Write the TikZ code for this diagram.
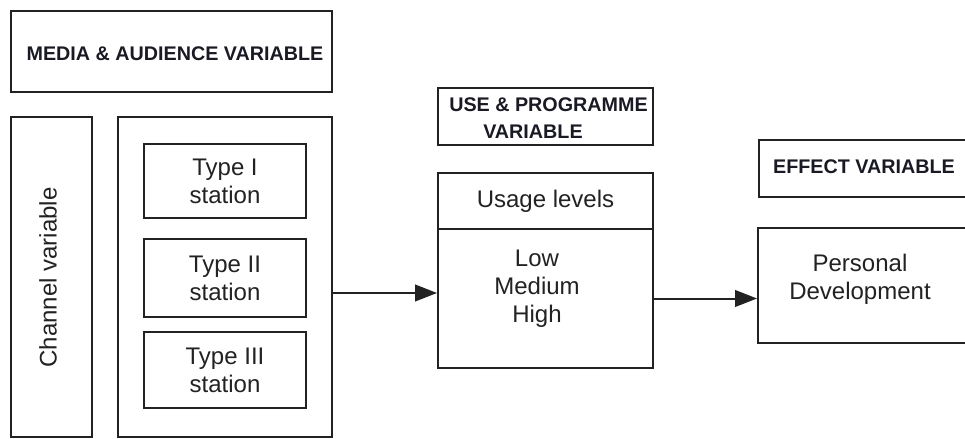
\documentclass[tikz,border=0pt]{standalone}
\usepackage{fontspec}
\setmainfont{Liberation Sans}
\usetikzlibrary{arrows.meta}
\definecolor{ink}{HTML}{222222}
\definecolor{headink}{HTML}{1A1A24}
\begin{document}
\begin{tikzpicture}[x=0.75pt, y=-0.75pt,
  box/.style={draw=ink, line width=1.5pt, rectangle, inner sep=0pt},
  bodytext/.style={text=ink, font=\fontsize{18}{21}\selectfont, align=center, inner sep=0pt},
  headtext/.style={text=headink, font=\fontsize{14.8}{20.3}\selectfont\bfseries, inner sep=0pt},
  arr/.style={draw=ink, line width=1.5pt, -{Triangle[length=16.5pt, width=12.5pt]}}]
\useasboundingbox (0,0) rectangle (965,439);
\fill[white] (0,0) rectangle (965,439);
\clip (0,0) rectangle (965,439);

% media and audience block
\node[box, minimum width=321*0.75pt, minimum height=81*0.75pt] (media) at (171.5,51.5) {};
\node[headtext] (mediaT) at (175,54) {MEDIA \& AUDIENCE VARIABLE};

\node[box, minimum width=81*0.75pt, minimum height=320*0.75pt] (channel) at (51.5,277) {};
\node[bodytext, rotate=90] (channelT) at (48,277.5) {Channel variable};

\node[box, minimum width=214*0.75pt, minimum height=320*0.75pt] (outer) at (225,277) {};
\node[box, minimum width=162*0.75pt, minimum height=74*0.75pt, bodytext] (t1) at (225,181) {Type I\\station};
\node[box, minimum width=162*0.75pt, minimum height=78*0.75pt, bodytext] (t2) at (225,278) {Type II\\station};
\node[box, minimum width=162*0.75pt, minimum height=76*0.75pt, bodytext] (t3) at (225,370) {Type III\\station};

% use and programme block
\node[box, minimum width=215*0.75pt, minimum height=57*0.75pt] (use) at (545.5,116.5) {};
\node[headtext, align=left, anchor=west] (useT) at (449,118) {USE \& PROGRAMME\\\hspace*{25.5pt}VARIABLE};

\node[box, minimum width=215*0.75pt, minimum height=56*0.75pt, bodytext] (usage) at (545.5,201) {Usage levels};
\node[box, minimum width=215*0.75pt, minimum height=139*0.75pt] (body) at (545.5,298.5) {};
\node[bodytext] (levels) at (537,288.5) {Low\\Medium\\High};

% effect block
\node[box, minimum width=216*0.75pt, minimum height=57*0.75pt] (effect) at (867,168.5) {};
\node[headtext] (effectT) at (864,167) {EFFECT VARIABLE};
\node[box, minimum width=217*0.75pt, minimum height=115*0.75pt] (personal) at (866.5,285.5) {};
\node[bodytext] (personalT) at (860,279) {Personal\\Development};

% connectors
\coordinate (y1) at (0,293);
\draw[arr] (outer.east |- y1) -- (body.west |- y1);
\draw[arr] (body.east) -- (personal.west |- body.east);
\end{tikzpicture}
\end{document}
